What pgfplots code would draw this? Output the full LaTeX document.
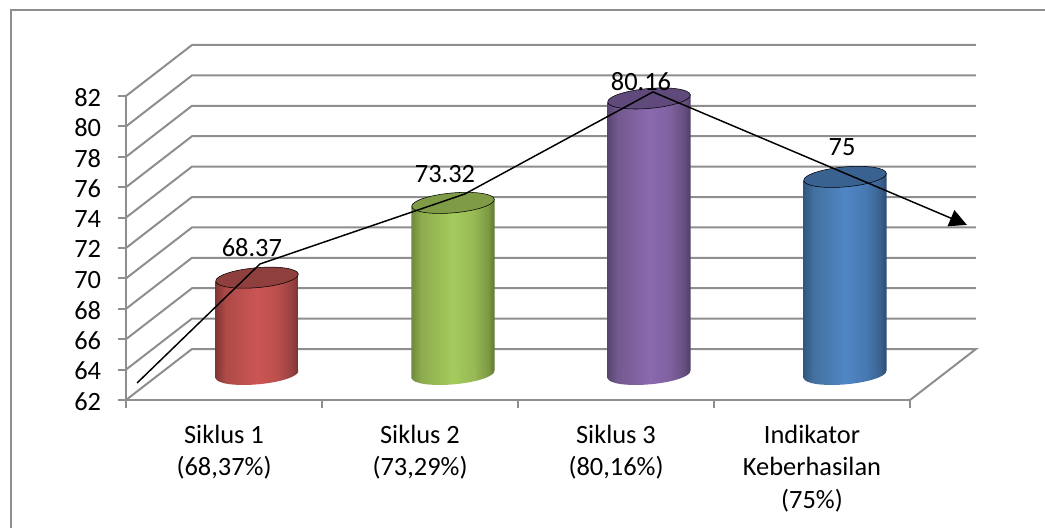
\documentclass[border=0pt]{standalone}
\usepackage{fontspec}
\setmainfont{Carlito}
\usepackage{pgfplots}
\pgfplotsset{compat=1.18}
\usetikzlibrary{arrows.meta}
\definecolor{gridgray}{HTML}{8E8E8E}
\newcommand\cylshade[7]{%
 \pgfdeclarehorizontalshading{#1}{100bp}{color(0bp)=(#2);color(25bp)=(#2);color(31bp)=(#3);color(50bp)=(#4);color(62.5bp)=(#5);color(71bp)=(#6);color(75bp)=(#7);color(100bp)=(#7)}%
 \pgfdeclareplotmark{base#1}{\pgfpathellipse{\pgfpointorigin}{\pgfqpoint{31pt}{2.71pt}}{\pgfqpoint{-0.65pt}{7.37pt}}\pgfshadepath{#1}{0}\pgfusepath{discard}}%
}
\definecolor{ra}{HTML}{7F3634}\definecolor{rb}{HTML}{AD4A47}\definecolor{rc}{HTML}{CB5654}\definecolor{rd}{HTML}{BA4F4C}\definecolor{re}{HTML}{964140}\definecolor{rf}{HTML}{7A3331}
\definecolor{ga}{HTML}{6F8A3C}\definecolor{gb}{HTML}{8DAC4E}\definecolor{gc}{HTML}{A5CB5C}\definecolor{gd}{HTML}{98B955}\definecolor{ge}{HTML}{7C9A44}\definecolor{gf}{HTML}{607835}
\definecolor{pa}{HTML}{58456F}\definecolor{pb}{HTML}{73598F}\definecolor{pc}{HTML}{8B69AE}\definecolor{pd}{HTML}{7F619F}\definecolor{pe}{HTML}{66507F}\definecolor{pf}{HTML}{4F3E66}
\definecolor{ba}{HTML}{315680}\definecolor{bb}{HTML}{43719F}\definecolor{bc}{HTML}{4F86C6}\definecolor{bd}{HTML}{4779B2}\definecolor{be}{HTML}{3A6290}\definecolor{bf}{HTML}{2D4C70}
\definecolor{capr}{HTML}{8F403E}\definecolor{capg}{HTML}{7F9B46}\definecolor{capp}{HTML}{604A7B}\definecolor{capb}{HTML}{3A6291}
\cylshade{cylr}{ra}{rb}{rc}{rd}{re}{rf}
\cylshade{cylg}{ga}{gb}{gc}{gd}{ge}{gf}
\cylshade{cylp}{pa}{pb}{pc}{pd}{pe}{pf}
\cylshade{cylb}{ba}{bb}{bc}{bd}{be}{bf}
\newcommand\chartfont{\fontsize{19.8pt}{24.4pt}\selectfont}
\tikzset{capmark/.style={only marks,mark=*,mark size=31.1pt,mark options={draw=none,fill=#1,rotate=5,yscale=0.24}}}
\begin{document}
\begin{tikzpicture}
\path[use as bounding box] (0,0) rectangle (783.75pt,396pt);
\draw[gridgray,line width=1.5pt] (8.25pt,0) -- (8.25pt,388.5pt) -- (783.75pt,388.5pt);
% front axis with walls
\begin{axis}[
  at={(94.5pt,96pt)},anchor=south west,scale only axis,width=588pt,height=228pt,
  xmin=0,xmax=4,ymin=62,ymax=82,clip=false,
  axis x line*=bottom,axis y line*=left,
  axis line style={gridgray,line width=1.5pt,-},
  tick style={gridgray,line width=1.5pt},
  major tick length=6pt,tick align=outside,
  xtick={0,1,2,3,4},
  x tick label as interval,
  xticklabels={{Siklus 1\\(68,37\%)},{Siklus 2\\(73,29\%)},{Siklus 3\\(80,16\%)},{Indikator\\Keberhasilan\\(75\%)}},
  xticklabel style={align=center,font=\chartfont,anchor=north,inner sep=0pt,yshift=-12.5pt},
  ytick={62,64,...,82},
  yticklabel style={font=\chartfont,anchor=east,inner sep=0pt,xshift=-12.5pt,yshift=-1pt},
  /pgf/number format/assume math mode=true,
]
\addplot[gridgray,line width=1.5pt,unbounded coords=jump] coordinates {
 (4,62)(4.3367,65.355)(0.3367,65.355)(0,62)(nan,nan)
 (0,64)(0.3367,67.355)(4.3367,67.355)(nan,nan)
 (0,66)(0.3367,69.355)(4.3367,69.355)(nan,nan)
 (0,68)(0.3367,71.355)(4.3367,71.355)(nan,nan)
 (0,70)(0.3367,73.355)(4.3367,73.355)(nan,nan)
 (0,72)(0.3367,75.355)(4.3367,75.355)(nan,nan)
 (0,74)(0.3367,77.355)(4.3367,77.355)(nan,nan)
 (0,76)(0.3367,79.355)(4.3367,79.355)(nan,nan)
 (0,78)(0.3367,81.355)(4.3367,81.355)(nan,nan)
 (0,80)(0.3367,83.355)(4.3367,83.355)(nan,nan)
 (0,82)(0.3367,85.355)(4.3367,85.355)
};
\end{axis}
% cylinders (mid-depth plane)
\begin{axis}[
  at={(119.25pt,115.125pt)},anchor=south west,scale only axis,width=588pt,height=228pt,
  xmin=0,xmax=4,ymin=62,ymax=82,clip=false,hide axis,
]
\addplot[only marks,mark=basecylr] coordinates {(0.5,62)};
\addplot[only marks,mark=basecylg] coordinates {(1.5,62)};
\addplot[only marks,mark=basecylp] coordinates {(2.5,62)};
\addplot[only marks,mark=basecylb] coordinates {(3.5,62)};
\addplot[draw=none,shade,shading=cylr,mark=none] coordinates {(0.288,61.74)(0.288,68.11)(0.712,68.63)(0.712,62.26)};
\addplot[draw=none,shade,shading=cylg,mark=none] coordinates {(1.288,61.74)(1.288,73.03)(1.712,73.55)(1.712,62.26)};
\addplot[draw=none,shade,shading=cylp,mark=none] coordinates {(2.288,61.74)(2.288,79.90)(2.712,80.42)(2.712,62.26)};
\addplot[draw=none,shade,shading=cylb,mark=none] coordinates {(3.288,61.74)(3.288,74.74)(3.712,75.26)(3.712,62.26)};
\addplot[capmark=capr] coordinates {(0.5,68.37)};
\addplot[capmark=capg] coordinates {(1.5,73.29)};
\addplot[capmark=capp] coordinates {(2.5,80.16)};
\addplot[capmark=capb] coordinates {(3.5,75)};
\end{axis}
% annotation line and data labels, above the cylinders
\begin{axis}[
  at={(119.25pt,115.125pt)},anchor=south west,scale only axis,width=588pt,height=228pt,
  xmin=0,xmax=4,ymin=62,ymax=82,clip=false,hide axis,
]
\addplot[black,line width=1.1pt,-{Triangle[length=13pt,width=13pt]}] coordinates {
 (-0.112,61.44)(0.515,69.27)(1.561,73.88)(2.520,80.59)(4.122,71.84)};
\node[font=\chartfont,inner sep=0pt] at (axis cs:0.474,70.38) {68.37};
\node[font=\chartfont,inner sep=0pt] at (axis cs:1.459,75.2) {73.32};
\node[font=\chartfont,inner sep=0pt] at (axis cs:2.459,81.3) {80.16};
\node[font=\chartfont,inner sep=0pt] at (axis cs:3.485,76.93) {75};
\end{axis}
\end{tikzpicture}
\end{document}
